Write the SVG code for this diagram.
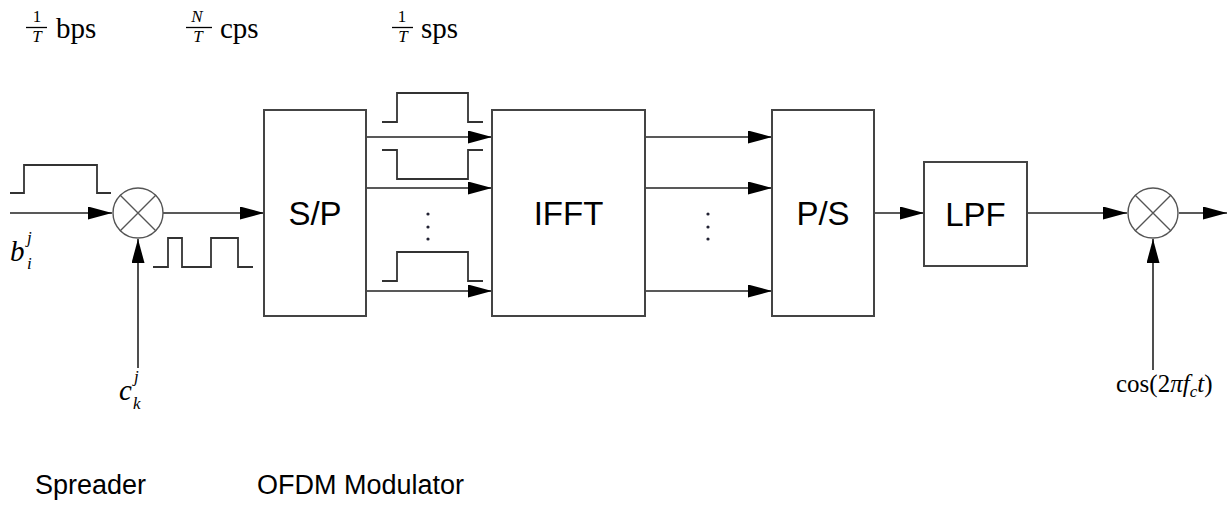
<svg xmlns="http://www.w3.org/2000/svg" width="1228" height="517" viewBox="0 0 1228 517">
<style>
.box{fill:#fff;stroke:#444;stroke-width:2}
.ln{fill:none;stroke:#222;stroke-width:1.6}
.wv{fill:none;stroke:#333;stroke-width:1.8}
.lbl{font-family:"Liberation Sans",Arial,sans-serif;font-size:33px;fill:#000;text-anchor:middle}
.cap{font-family:"Liberation Sans",Arial,sans-serif;font-size:27px;fill:#000}
.m{font-family:"Liberation Serif","Times New Roman",serif;fill:#000}
.it{font-style:italic}
.fr{font-size:17px;text-anchor:middle}
.rt{font-size:29px}
.dot{fill:#223}
</style>
<defs>
<marker id="ah" markerUnits="userSpaceOnUse" markerWidth="24" markerHeight="14" refX="24" refY="6.5" orient="auto">
<path d="M0,0 L24,6.5 L0,13 Z" fill="#000"/>
</marker>
</defs>

<g id="rates">
<text class="m fr" x="37" y="22">1</text>
<line x1="26" y1="27.5" x2="47" y2="27.5" stroke="#000" stroke-width="1.3"/>
<text class="m it fr" x="37" y="42">T</text>
<text class="m rt" x="56" y="38">bps</text>
<text class="m it fr" x="197" y="22">N</text>
<line x1="186" y1="27.5" x2="212" y2="27.5" stroke="#000" stroke-width="1.3"/>
<text class="m it fr" x="198" y="42">T</text>
<text class="m rt" x="220" y="38">cps</text>
<text class="m fr" x="402" y="22">1</text>
<line x1="392" y1="27.5" x2="413" y2="27.5" stroke="#000" stroke-width="1.3"/>
<text class="m it fr" x="403" y="42">T</text>
<text class="m rt" x="421" y="38">sps</text>
</g>

<g id="connectors">
<line class="ln" x1="10" y1="213" x2="112" y2="213" marker-end="url(#ah)"/>
<line class="ln" x1="163" y1="213" x2="264" y2="213" marker-end="url(#ah)"/>
<line class="ln" x1="138" y1="368" x2="138" y2="239" marker-end="url(#ah)"/>
<line class="ln" x1="366" y1="137" x2="492" y2="137" marker-end="url(#ah)"/>
<line class="ln" x1="366" y1="188" x2="492" y2="188" marker-end="url(#ah)"/>
<line class="ln" x1="366" y1="291" x2="492" y2="291" marker-end="url(#ah)"/>
<line class="ln" x1="645" y1="137" x2="772" y2="137" marker-end="url(#ah)"/>
<line class="ln" x1="645" y1="188" x2="772" y2="188" marker-end="url(#ah)"/>
<line class="ln" x1="645" y1="291" x2="772" y2="291" marker-end="url(#ah)"/>
<line class="ln" x1="874" y1="213" x2="924" y2="213" marker-end="url(#ah)"/>
<line class="ln" x1="1027" y1="213" x2="1127" y2="213" marker-end="url(#ah)"/>
<line class="ln" x1="1179" y1="213" x2="1227" y2="213" marker-end="url(#ah)"/>
<line class="ln" x1="1153" y1="370" x2="1153" y2="239" marker-end="url(#ah)"/>
</g>

<g id="waveforms">
<path class="wv" d="M10,193 H24 V165 H97 V193 H111"/>
<path class="wv" d="M153,267 H168 V238 H182 V267 H211 V238 H238 V267 H253"/>
<path class="wv" d="M382,122 H397 V93 H468 V122 H483"/>
<path class="wv" d="M382,150 H397 V179 H468 V150 H483"/>
<path class="wv" d="M382,281 H397 V252 H468 V281 H483"/>
<circle class="dot" cx="428" cy="214" r="1.6"/>
<circle class="dot" cx="428" cy="227" r="1.6"/>
<circle class="dot" cx="428" cy="239" r="1.6"/>
<circle class="dot" cx="708" cy="214" r="1.6"/>
<circle class="dot" cx="708" cy="227" r="1.6"/>
<circle class="dot" cx="708" cy="239" r="1.6"/>
</g>

<g id="mult1">
<circle cx="138" cy="213" r="25" fill="#fff" stroke="#555" stroke-width="1.4"/>
<path d="M120,195 L156,231 M156,195 L120,231" stroke="#555" stroke-width="1.4"/>
</g>

<g id="sp">
<rect class="box" x="264" y="110" width="102" height="206"/>
<text class="lbl" x="315" y="225">S/P</text>
</g>
<g id="ifft">
<rect class="box" x="492" y="110" width="153" height="206"/>
<text class="lbl" x="568.5" y="225">IFFT</text>
</g>
<g id="ps">
<rect class="box" x="772" y="110" width="102" height="206"/>
<text class="lbl" x="823" y="225">P/S</text>
</g>
<g id="lpf">
<rect class="box" x="924" y="162" width="103" height="104"/>
<text class="lbl" x="975.5" y="226">LPF</text>
</g>

<g id="mult2">
<circle cx="1153" cy="213" r="25" fill="#fff" stroke="#555" stroke-width="1.4"/>
<path d="M1135,195 L1171,231 M1171,195 L1135,231" stroke="#555" stroke-width="1.4"/>
</g>

<g id="math-labels">
<text class="m it" x="10" y="261" font-size="29">b</text>
<text class="m it" x="27" y="243" font-size="17">j</text>
<text class="m it" x="27" y="269" font-size="17">i</text>
<text class="m it" x="119" y="400" font-size="29">c</text>
<text class="m it" x="134" y="382" font-size="17">j</text>
<text class="m it" x="133" y="409" font-size="17">k</text>
<text class="m" x="1116" y="392" font-size="25">cos(2<tspan font-style="italic">πf</tspan><tspan font-size="17" font-style="italic" dy="5">c</tspan><tspan font-style="italic" dy="-5">t</tspan>)</text>
</g>

<g id="captions">
<text class="cap" x="35" y="494">Spreader</text>
<text class="cap" x="257" y="494">OFDM Modulator</text>
</g>
</svg>
